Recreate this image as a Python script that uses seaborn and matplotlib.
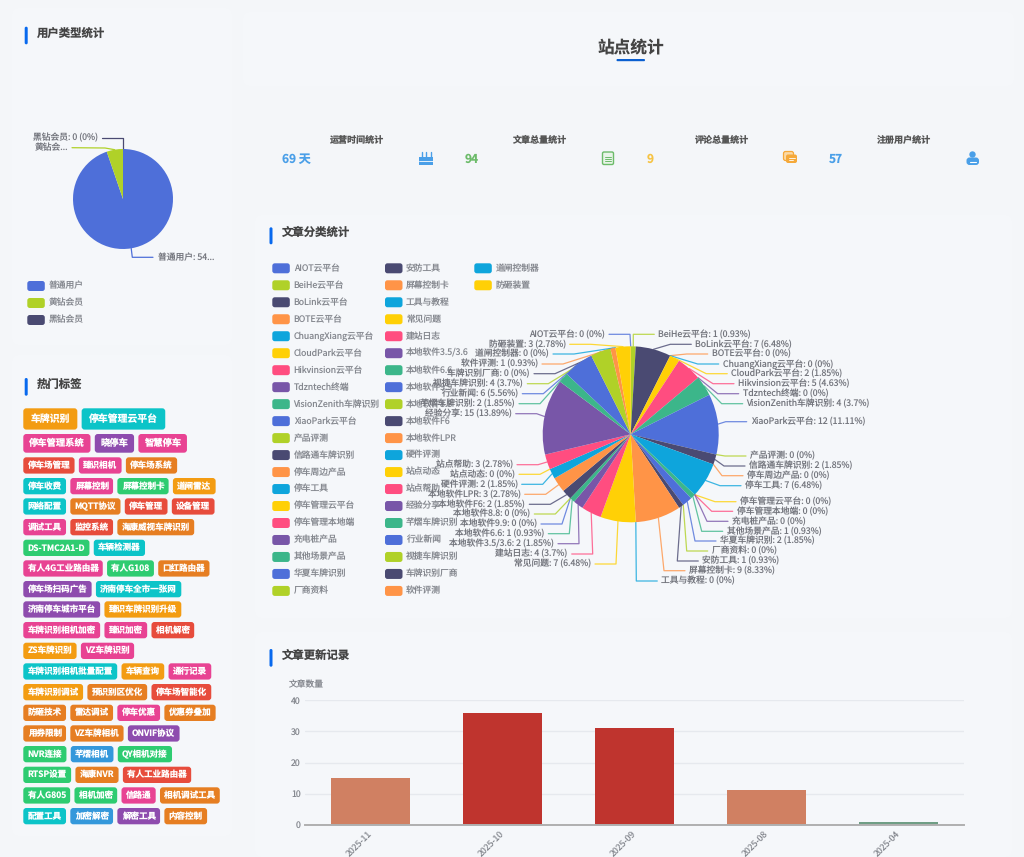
"""
站点统计页面复刻
"""

import numpy as np
import matplotlib
matplotlib.use("Agg")
import matplotlib.pyplot as plt
from matplotlib.patches import Circle, FancyBboxPatch, Rectangle
from matplotlib.transforms import ScaledTranslation
import seaborn as sns

W, H = 1024, 857

# 文章分类
category_names = [
    "AIOT云平台", "BeiHe云平台", "BoLink云平台", "BOTE云平台", "ChuangXiang云平台",
    "CloudPark云平台", "Hikvinsion云平台", "Tdzntech终端", "VisionZenith车牌识别", "XiaoPark云平台",
    "产品评测", "信路通车牌识别", "停车周边产品", "停车工具", "停车管理云平台",
    "停车管理本地端", "充电桩产品", "其他场景产品", "华夏车牌识别", "厂商资料",
    "安防工具", "屏幕控制卡", "工具与教程", "常见问题", "建站日志",
    "本地软件3.5/3.6", "本地软件6.6", "本地软件9.9", "本地软件8.8", "本地软件F6",
    "本地软件LPR", "硬件评测", "站点动态", "站点帮助", "经验分享",
    "芊熠车牌识别", "行业新闻", "视捷车牌识别", "车牌识别厂商", "软件评测",
    "道闸控制器", "防砸装置",
]
category_counts = [
    0, 1, 7, 0, 0, 2, 5, 0, 4, 12,
    0, 2, 0, 7, 0, 0, 0, 1, 2, 0,
    1, 9, 0, 7, 4, 2, 1, 0, 0, 2,
    3, 2, 0, 3, 15, 2, 6, 4, 0, 1,
    0, 3,
]

# 用户类型
user_types = ["普通用户", "黄钻会员", "黑钻会员"]
user_counts = [54, 3, 0]

# 文章更新
months = ["2025-11", "2025-10", "2025-09", "2025-08", "2025-04"]
month_counts = [15, 36, 31, 11, 1]

# 顶部统计
stat_titles = ["运营时间统计", "文章总量统计", "评论总量统计", "注册用户统计"]
stat_values = ["69 天", "94", "9", "57"]

# 标签云, 每行 (文字, 颜色键)
tag_rows = [
    [("车牌识别", "o"), ("停车管理云平台", "t")],
    [("停车管理系统", "p"), ("晓停车", "v"), ("智慧停车", "p")],
    [("停车场管理", "r"), ("臻识相机", "p"), ("停车场系统", "d")],
    [("停车收费", "t"), ("屏幕控制", "p"), ("屏幕控制卡", "g"), ("道闸雷达", "o")],
    [("网络配置", "t"), ("MQTT协议", "d"), ("停车管理", "r"), ("设备管理", "r")],
    [("调试工具", "p"), ("监控系统", "r"), ("海康威视车牌识别", "d")],
    [("DS-TMC2A1-D", "g"), ("车辆检测器", "t")],
    [("有人4G工业路由器", "p"), ("有人G108", "g"), ("口红路由器", "d")],
    [("停车场扫码广告", "v"), ("济南停车全市一张网", "t")],
    [("济南停车城市平台", "v"), ("臻识车牌识别升级", "o")],
    [("车牌识别相机加密", "p"), ("臻识加密", "p"), ("相机解密", "r")],
    [("ZS车牌识别", "o"), ("VZ车牌识别", "p")],
    [("车牌识别相机批量配置", "t"), ("车辆查询", "o"), ("通行记录", "p")],
    [("车牌识别调试", "o"), ("预识别区优化", "d"), ("停车场智能化", "r")],
    [("防砸技术", "d"), ("雷达调试", "d"), ("停车优惠", "p"), ("优惠券叠加", "d")],
    [("用券限制", "d"), ("VZ车牌相机", "d"), ("ONVIF协议", "v")],
    [("NVR连接", "g"), ("芊熠相机", "b"), ("QY相机对接", "g")],
    [("RTSP设置", "g"), ("海康NVR", "d"), ("有人工业路由器", "r")],
    [("有人G805", "g"), ("相机加密", "g"), ("信路通", "p"), ("相机调试工具", "d")],
    [("配置工具", "t"), ("加密解密", "b"), ("解密工具", "v"), ("内容控制", "d")],
]
tag_colors = {"o": "#f39c12", "t": "#0cc4c8", "p": "#e84393", "v": "#8e4cae",
              "r": "#e74c3c", "d": "#e67e22", "g": "#2ecc71", "b": "#3498db"}
tag_tops = [408.3, 434, 457.3, 478, 498.3, 519, 539.7, 560.3, 581, 601.3,
            622, 642.7, 663.3, 684, 704.7, 725.3, 746, 766.7, 787.3, 808]

# 饼图标签位置 (像素), 左侧为文字右端, 右侧为文字左端
label_x = [605, 658.3, 695.3, 711.7, 722.7, 731.3, 738, 742.7, 746.7, 750.7,
           750, 749, 747, 745, 740, 736.7, 732, 726.7, 720, 711.7,
           702.3, 689, 661.3, 591, 567.7, 554, 544.3, 537, 530.3, 525.3,
           520.7, 517.7, 515, 513, 511.7, 515, 518.3, 523.3, 530, 538,
           549, 565.7]
label_y = [334.3, 334.3, 344.3, 354, 364, 373.7, 383.7, 393.7, 403.7, 421.7,
           456, 466, 475.7, 485.7, 501.7, 511.3, 521.3, 531.3, 541, 551,
           561, 570.7, 581, 564, 554, 543.7, 533.7, 524, 514, 504.3,
           494.3, 484.3, 474.3, 464.7, 413.7, 403.7, 393.7, 383.7, 373.7, 364,
           354, 344.3]

palette = ["#4e6fd9", "#b0d128", "#4a4a72", "#ff9447", "#0ea5dc",
           "#ffd006", "#ff4d80", "#7856a8", "#3cb68a"]

BG = "#f4f6f9"
CARD = "#f5f7fa"
TITLE = "#444444"
LABEL = "#74767e"
LEGEND = "#85888f"
ACCENT = "#0869ee"
SMALL = 6.3


def px_axes(fig, left, top, right, bottom):
    """按像素坐标建 axes"""
    return fig.add_axes([left / W, 1 - bottom / H, (right - left) / W, (bottom - top) / H])


def pct_text(name, value, total):
    return f"{name}: {value} ({round(value / total * 100, 2):g}%)"


def section_title(ax, text, bar_x, bar_top, bar_bottom, text_x, text_y):
    ax.add_patch(FancyBboxPatch((bar_x, bar_top), 3, bar_bottom - bar_top,
                                boxstyle="round,pad=0,rounding_size=1.5",
                                fc=ACCENT, ec="none"))
    ax.text(text_x, text_y, text, fontsize=8.2, fontweight="bold", color=TITLE,
            ha="left", va="center")


def legend_item(ax, x, y, text_x, text, color):
    ax.add_patch(FancyBboxPatch((x, y - 5), 17.5, 10,
                                boxstyle="round,pad=0,rounding_size=2.5",
                                fc=color, ec="none"))
    ax.text(text_x, y, text, fontsize=SMALL, color=LEGEND, ha="left", va="center")


def draw_pie(fig, cx, cy, r, values, colors):
    ax = px_axes(fig, cx - r, cy - r, cx + r, cy + r)
    wedges, _ = ax.pie(values, colors=colors, startangle=90, counterclock=False,
                       radius=1, wedgeprops={"clip_on": False, "linewidth": 0})
    ax.set_xlim(-1, 1)
    ax.set_ylim(-1, 1)
    return wedges


def draw_tags(fig, ax):
    renderer = fig.canvas.get_renderer()
    for i, row in enumerate(tag_rows):
        # 前两行字号更大
        if i == 0:
            size, pad, height = 7.1, 7.3, 21.3
        elif i == 1:
            size, pad, height = 6.7, 5.7, 18.7
        else:
            size, pad, height = 6.15, 4.3, 16.3
        x = 23.3
        top = tag_tops[i]
        for name, key in row:
            t = ax.text(x + pad, top + height / 2, name, fontsize=size, fontweight="bold",
                        color="white", ha="left", va="center", zorder=4)
            width = t.get_window_extent(renderer).width + pad * 2
            ax.add_patch(FancyBboxPatch((x, top), width, height,
                                        boxstyle="round,pad=0,rounding_size=3",
                                        fc=tag_colors[key], ec="none", zorder=3))
            x += width + 4.3


def draw_icons(ax):
    blue, green, amber = "#4a9fe8", "#6cbb6a", "#f5a93a"
    # 蛋糕
    ax.add_patch(Rectangle((419, 157), 14, 7.5, fc=blue, ec="none"))
    ax.plot([419, 433], [160.5, 160.5], color="white", lw=0.6)
    for x in (421.5, 426, 430.5):
        ax.plot([x, x], [152, 157], color=blue, lw=1)
    # 文档
    ax.add_patch(FancyBboxPatch((602.5, 152), 11, 12.5, boxstyle="round,pad=0,rounding_size=1.5",
                                fc="#e8f4e8", ec=green, lw=1))
    for y in (156.5, 158.8, 161):
        ax.plot([605, 611], [y, y], color=green, lw=0.7)
    # 评论
    ax.add_patch(FancyBboxPatch((783.5, 151.5), 10, 9, boxstyle="round,pad=0,rounding_size=2",
                                fc="#fbd9a5", ec=amber, lw=0.9))
    ax.add_patch(FancyBboxPatch((786, 154.5), 11, 8.5, boxstyle="round,pad=0,rounding_size=2",
                                fc=amber, ec="none"))
    ax.plot([788.5, 794.5], [157.5, 157.5], color="white", lw=0.6)
    ax.plot([788.5, 793], [160, 160], color="white", lw=0.6)
    # 用户
    ax.add_patch(Circle((972.5, 154.5), 3.2, fc=blue, ec="none"))
    ax.add_patch(FancyBboxPatch((966.5, 157.5), 12.5, 7.5, boxstyle="round,pad=0,rounding_size=3",
                                fc=blue, ec="none"))
    ax.plot([970, 975.5], [161.5, 161.5], color="white", lw=0.8)


def main():
    sns.set_theme(style="white")
    plt.rcParams["font.family"] = ["Noto Sans CJK SC", "DejaVu Sans"]
    plt.rcParams["text.hinting"] = "no_hinting"

    fig = plt.figure(figsize=(W / 100, H / 100), dpi=100, facecolor=BG)
    overlay = fig.add_axes([0, 0, 1, 1], zorder=0)
    overlay.set_xlim(0, W)
    overlay.set_ylim(H, 0)
    overlay.axis("off")

    # 卡片底色
    for x0, y0, x1, y1 in [(12, 8, 232, 345), (12, 355, 232, 836),
                           (243, 12, 1014, 86), (255, 215, 1012, 618), (255, 632, 1012, 857)]:
        overlay.add_patch(FancyBboxPatch((x0, y0), x1 - x0, y1 - y0,
                                         boxstyle="round,pad=0,rounding_size=6",
                                         fc=CARD, ec="none"))

    # 用户类型
    section_title(overlay, "用户类型统计", 24.7, 26.7, 44.3, 36.7, 33)
    ucx, ucy, ur = 123, 199, 50
    user_colors = palette[:3]
    draw_pie(fig, ucx, ucy, ur, user_counts, user_colors)
    overlay.plot([131.2, 132.3, 153], [248.3, 257.3, 257.3], color=user_colors[0], lw=0.9)
    overlay.text(157.7, 257.3, "普通用户: 54...", fontsize=SMALL, color=LABEL, ha="left", va="center")
    overlay.plot([114.7, 105, 72], [149.7, 148, 147.7], color=user_colors[1], lw=0.9)
    overlay.text(68.3, 147.7, "黄钻会...", fontsize=SMALL, color=LABEL, ha="right", va="center")
    overlay.plot([123, 123, 101.7], [149, 138, 138], color=user_colors[2], lw=0.9)
    overlay.text(97.7, 138, pct_text(user_types[2], user_counts[2], sum(user_counts)),
                 fontsize=SMALL, color=LABEL, ha="right", va="center")
    for i, name in enumerate(user_types):
        legend_item(overlay, 27.3, 286 + i * 17, 49, name, user_colors[i])

    # 热门标签
    section_title(overlay, "热门标签", 24.7, 378, 395.7, 37, 384)
    draw_tags(fig, overlay)

    # 顶部标题
    overlay.text(630.5, 48.5, "站点统计", fontsize=12, fontweight="bold", color=TITLE,
                 ha="center", va="center")
    overlay.add_patch(FancyBboxPatch((616.5, 59), 28.5, 2.2, boxstyle="round,pad=0,rounding_size=1",
                                     fc="#0a5fd0", ec="none"))

    stat_colors = ["#4a9fe8", "#6cbb6a", "#f6c344", "#4a9fe8"]
    for i in range(4):
        overlay.text(357 + i * 182.3, 140.7, stat_titles[i], fontsize=6.5, fontweight="bold",
                     color="#555555", ha="center", va="center")
        overlay.text(282.4 + i * 182.2, 159.3, stat_values[i], fontsize=8.6, fontweight="bold",
                     color=stat_colors[i], ha="left", va="center")
    draw_icons(overlay)

    # 文章分类
    section_title(overlay, "文章分类统计", 269.5, 227.3, 244.3, 282, 232.7)
    n = len(category_names)
    colors = [palette[i % len(palette)] for i in range(n)]
    columns = [(272.3, 293.7), (385, 406), (474.3, 495.7)]
    for i, name in enumerate(category_names):
        col, row = divmod(i, 20)
        legend_item(overlay, columns[col][0], 268.3 + row * 16.98, columns[col][1], name, colors[i])

    ccx, ccy, cr = 630.7, 434.3, 88
    wedges = draw_pie(fig, ccx, ccy, cr, category_counts, colors)
    total = sum(category_counts)
    for i, wedge in enumerate(wedges):
        mid = np.deg2rad((wedge.theta1 + wedge.theta2) / 2)
        sx, sy = ccx + cr * np.cos(mid), ccy - cr * np.sin(mid)
        side = 1 if label_x[i] > ccx else -1
        overlay.plot([sx, label_x[i] - side * 25, label_x[i] - side * 4],
                     [sy, label_y[i], label_y[i]], color=colors[i], lw=0.9, alpha=0.8)
        overlay.text(label_x[i], label_y[i], pct_text(category_names[i], category_counts[i], total),
                     fontsize=SMALL, color=LABEL, va="center", ha="left" if side > 0 else "right")

    # 文章更新记录
    section_title(overlay, "文章更新记录", 269.5, 649, 666.7, 282, 655)
    overlay.text(306, 684.7, "文章数量", fontsize=SMALL, color=LEGEND, ha="center", va="center")

    ax = px_axes(fig, 304.8, 700.3, 964.2, 824.7)
    ax.patch.set_alpha(0)
    bar_colors = ["#d08062", "#bf342e", "#bf342e", "#d08062", "#6f9e85"]
    sns.barplot(x=months, y=month_counts, hue=months, palette=bar_colors, width=0.6,
                legend=False, saturation=1, linewidth=0, ax=ax)
    ax.set_xlim(-0.5, 4.5)
    ax.set_ylim(0, 40)
    ax.set_yticks([0, 10, 20, 30, 40])
    ax.grid(axis="y", color="#e6e9ee", lw=1)
    ax.set_axisbelow(True)
    sns.despine(ax=ax, left=True)
    ax.spines["bottom"].set_color("#b0b0b0")
    ax.spines["bottom"].set_linewidth(1.4)
    ax.tick_params(axis="both", length=0, labelcolor=LEGEND, labelsize=SMALL)
    ax.tick_params(axis="y", pad=3)
    ax.tick_params(axis="x", pad=3)
    plt.setp(ax.get_xticklabels(), rotation=45, ha="right", rotation_mode="anchor")
    # 旋转后的刻度文字往左挪一点
    shift = ScaledTranslation(-0.03, 0, fig.dpi_scale_trans)
    for tick_label in ax.get_xticklabels():
        tick_label.set_transform(tick_label.get_transform() + shift)
    ax.set_xlabel("")
    ax.set_ylabel("")

    fig.savefig("out.png", dpi=100, facecolor=BG)


if __name__ == "__main__":
    main()
